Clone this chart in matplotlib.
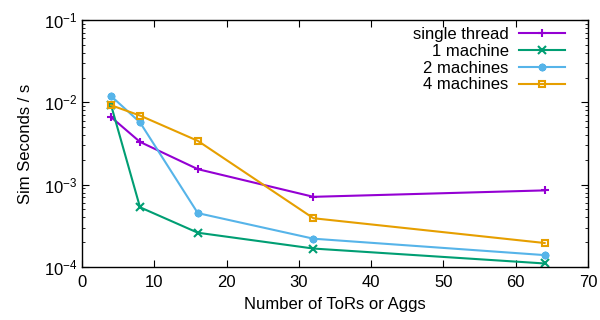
import matplotlib
matplotlib.use("Agg")
import matplotlib.pyplot as plt
from matplotlib.ticker import LogLocator, FixedLocator, NullFormatter

plt.rcParams['font.family'] = ['Liberation Sans', 'DejaVu Sans']
plt.rcParams['mathtext.fontset'] = 'custom'
plt.rcParams['mathtext.rm'] = 'Liberation Sans'
plt.rcParams['mathtext.it'] = 'Liberation Sans'
plt.rcParams['mathtext.default'] = 'regular'

x = [4, 8, 16, 32, 64]
single_thread = [0.0066, 0.0033, 0.00154, 0.00071, 0.00085]
one_machine = [0.0092, 0.00053, 0.00026, 0.000167, 0.00011]
two_machines = [0.0119, 0.0057, 0.00045, 0.00022, 0.000139]
four_machines = [0.0092, 0.0069, 0.0034, 0.00039, 0.000195]

labels = ["single thread", "1 machine", "2 machines", "4 machines"]
colors = ["#9400d3", "#009e73", "#56b4e9", "#e69f00"]
markers = ["+", "x", (8, 2, 0), "s"]

fig = plt.figure(figsize=(6, 3.2), dpi=100)
ax = fig.add_axes([0.137, 0.166, 0.843, 0.7715])

for ys, lab, c, m in zip([single_thread, one_machine, two_machines, four_machines], labels, colors, markers):
    kw = dict(color=c, lw=1.5, marker=m, markersize=5.5, markeredgewidth=1.5, label=lab)
    if m == "s":
        kw.update(markerfacecolor='none', markersize=5)
    ax.plot(x, ys, **kw)

ax.set_yscale('log')
ax.set_xlim(0, 70)
ax.set_ylim(1e-4, 1e-1)
ax.xaxis.set_major_locator(FixedLocator([0, 10, 20, 30, 40, 50, 60, 70]))
ax.yaxis.set_major_locator(LogLocator(base=10, numticks=10))
ax.yaxis.set_minor_locator(LogLocator(base=10, subs=range(2, 10), numticks=20))
ax.yaxis.set_minor_formatter(NullFormatter())
ax.tick_params(which='both', direction='in', top=True, right=True, labelsize=12, colors='black')
ax.tick_params(which='major', length=5, width=0.8)
ax.tick_params(which='minor', length=2.5, width=0.6)
ax.tick_params(axis='x', pad=6)
for s in ax.spines.values():
    s.set_linewidth(1.0)

ax.set_xlabel("Number of ToRs or Aggs", fontsize=12, labelpad=5)
ax.set_ylabel("Sim Seconds / s", fontsize=12, labelpad=8)

leg = ax.legend(loc='upper right', bbox_to_anchor=(0.955, 0.972), markerfirst=False,
                frameon=False, fontsize=12, handlelength=2.75, handletextpad=0.65,
                labelspacing=0.11, borderaxespad=0.0, borderpad=0.0)

fig.savefig("out.png", dpi=100)
